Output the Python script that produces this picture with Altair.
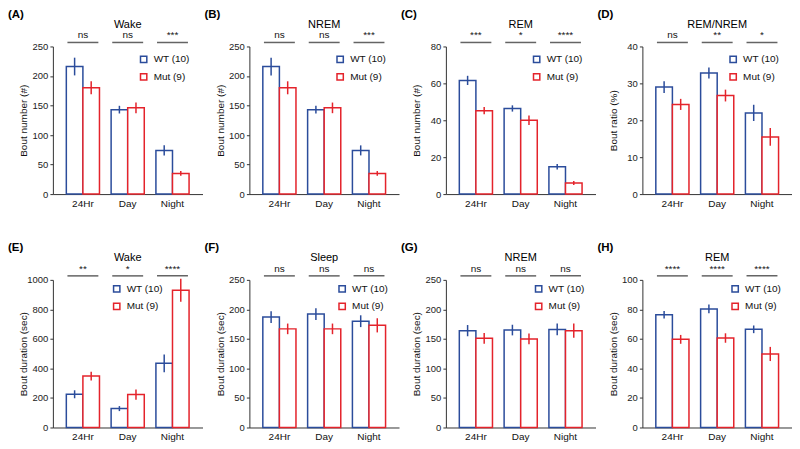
import altair as alt
import pandas as pd

cats = ["24Hr", "Day", "Night"]
groups = ["WT (10)", "Mut (9)"]
colors = ["#2b4c9b", "#e4232b"]

letters = ["(A)", "(B)", "(C)", "(D)", "(E)", "(F)", "(G)", "(H)"]
titles = ["Wake", "NREM", "REM", "REM/NREM", "Wake", "Sleep", "NREM", "REM"]
ytitles = ["Bout number (#)"] * 3 + ["Bout ratio (%)"] + ["Bout duration (sec)"] * 4
ymax = [250, 250, 80, 40, 1000, 250, 250, 100]
ystep = [50, 50, 20, 10, 200, 50, 50, 20]

wt_mean = [
    [216, 143, 74],
    [216, 143, 74],
    [61.6, 46.4, 14.8],
    [29.0, 32.8, 22.0],
    [225, 128, 435],
    [187, 192, 180],
    [164, 165, 166],
    [76.4, 80.3, 66.5],
]
wt_sem = [
    [15, 6.5, 8.5],
    [15, 6.5, 8.5],
    [2.5, 1.7, 1.5],
    [1.6, 1.5, 2.2],
    [27, 17, 60],
    [10, 10, 10],
    [9.5, 9, 10],
    [2.5, 3.0, 2.6],
]
mut_mean = [
    [180, 146, 35],
    [180, 146, 35],
    [45.2, 40.0, 6.0],
    [24.3, 26.7, 15.5],
    [348, 223, 929],
    [167, 167, 173],
    [151, 150, 164],
    [59.7, 60.6, 49.8],
]
mut_sem = [
    [11, 9, 4],
    [11, 9, 4],
    [2.0, 2.6, 1.1],
    [1.5, 1.6, 2.4],
    [30, 35, 78],
    [9, 9, 12],
    [9, 9, 12],
    [3.0, 3.2, 4.8],
]
sig = [
    ["ns", "ns", "***"],
    ["ns", "ns", "***"],
    ["***", "*", "****"],
    ["ns", "**", "*"],
    ["**", "*", "****"],
    ["ns", "ns", "ns"],
    ["ns", "ns", "ns"],
    ["****", "****", "****"],
]
legend_x = [86, 86, 86, 86, 59, 88, 88, 88]
legend_y = [8, 8, 8, 8, 4, 4, 4, 4]

W, H = 150, 148
FONT = "Liberation Sans"


def panel(i):
    rows = []
    for g, m, s in [(groups[0], wt_mean[i], wt_sem[i]), (groups[1], mut_mean[i], mut_sem[i])]:
        for c, mv, sv in zip(cats, m, s):
            rows.append({"cat": c, "grp": g, "mean": mv, "lo": mv - sv, "hi": mv + sv})
    df = pd.DataFrame(rows)
    sig_df = pd.DataFrame({"cat": cats, "sig": sig[i], "y": [ymax[i] * (1 + 4.0 / H)] * 3})

    xscale = alt.Scale(domain=cats, paddingInner=0.26, paddingOuter=0.3)
    yscale = alt.Scale(domain=[0, ymax[i]], nice=False, zero=True)
    xoff = alt.XOffset("grp:N", sort=groups,
                       scale=alt.Scale(domain=groups, paddingInner=0, paddingOuter=0))

    xaxis = alt.Axis(title=None, ticks=False, labelAngle=0, labelFontSize=10,
                     labelPadding=4, labelColor="#111", domainColor="#333",
                     domainWidth=1, minExtent=16, maxExtent=16, grid=False)
    yaxis = alt.Axis(title=ytitles[i], values=list(range(0, ymax[i] + 1, ystep[i])),
                     format="d",
                     tickSize=3, labelPadding=2, labelFontSize=9.5, labelColor="#222",
                     titleFontSize=10, titleFontWeight="normal", titleColor="#111",
                     titlePadding=0, domainColor="#333", tickColor="#333",
                     minExtent=24, maxExtent=24, grid=False)

    def X():
        return alt.X("cat:N", sort=cats, scale=xscale, axis=xaxis)

    def Y(field):
        return alt.Y(field, scale=yscale, axis=yaxis)

    bars = alt.Chart(df).mark_bar(fill="white", strokeWidth=1.5).encode(
        x=X(),
        xOffset=xoff,
        y=Y("mean:Q"),
        stroke=alt.Stroke(
            "grp:N", sort=groups,
            scale=alt.Scale(domain=groups, range=colors),
            legend=alt.Legend(orient="none", legendX=legend_x[i], legendY=legend_y[i],
                              title=None, symbolType="square", symbolSize=40,
                              symbolStrokeWidth=1.5, symbolFillColor="white",
                              labelFontSize=10, labelColor="#111", labelOffset=5,
                              rowPadding=3.5, padding=0),
        ),
    )
    err = alt.Chart(df).mark_rule(strokeWidth=1.5).encode(
        x=X(),
        xOffset=xoff,
        y=Y("lo:Q"),
        y2="hi:Q",
        color=alt.Color("grp:N", sort=groups,
                        scale=alt.Scale(domain=groups, range=colors), legend=None),
    )
    sig_line = alt.Chart(sig_df).mark_tick(orient="horizontal", size=31, thickness=1.5,
                                           color="#222").encode(
        x=X(),
        y=Y("y:Q"),
    )
    sig_text = alt.Chart(sig_df).mark_text(baseline="bottom", dy=-2, fontSize=10,
                                           color="#111").encode(
        x=X(),
        y=Y("y:Q"),
        text="sig:N",
    )
    letter = alt.Chart(pd.DataFrame({"t": [letters[i]]})).mark_text(
        align="left", baseline="top", fontSize=11.5, fontWeight="bold", color="#000"
    ).encode(x=alt.value(-45), y=alt.value(-38), text="t:N")
    ttl = alt.Chart(pd.DataFrame({"t": [titles[i]]})).mark_text(
        align="center", baseline="middle", fontSize=11, color="#000"
    ).encode(x=alt.value(W / 2), y=alt.value(-22), text="t:N")

    return alt.layer(bars, err, sig_line, sig_text, letter, ttl).properties(width=W, height=H)


panels = [panel(i) for i in range(8)]
row1 = alt.hconcat(*panels[0:4], spacing=2).resolve_scale(
    stroke="independent", color="independent").resolve_legend(
    stroke="independent", color="independent")
row2 = alt.hconcat(*panels[4:8], spacing=2).resolve_scale(
    stroke="independent", color="independent").resolve_legend(
    stroke="independent", color="independent")
chart = alt.vconcat(row1, row2, spacing=32).resolve_scale(
    stroke="independent", color="independent").resolve_legend(
    stroke="independent", color="independent").configure(
    font=FONT, padding=0, background="white"
).configure_view(stroke=None)

chart.save("out.html", embed_options={"renderer": "svg", "actions": False})
